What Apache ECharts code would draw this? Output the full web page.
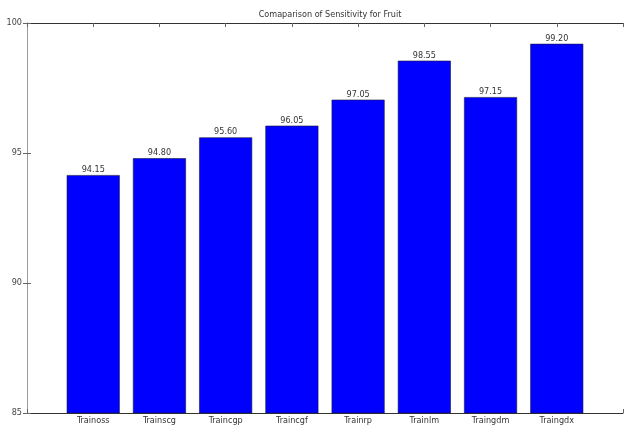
<!DOCTYPE html>
<html>
<head>
<meta charset="utf-8">
<script src="https://cdn.jsdelivr.net/npm/echarts@6/dist/echarts.min.js"></script>
<style>
  html, body { margin: 0; padding: 0; background: #fff; }
  #chart { width: 627px; height: 425px; }
</style>
</head>
<body>
<div id="chart"></div>
<script>
// Training algorithms and their sensitivity scores (%)
const categories = ['Trainoss', 'Trainscg', 'Traincgp', 'Traincgf', 'Trainrp', 'Trainlm', 'Traingdm', 'Traingdx'];
const sensitivity = [94.15, 94.80, 95.60, 96.05, 97.05, 98.55, 97.15, 99.20];
const yTicks = [85, 90, 95, 100];

const FONT = '"Liberation Sans Narrow", "DejaVu Sans Condensed", "Liberation Sans", sans-serif';
const AXIS_COLOR = '#666';

const chart = echarts.init(document.getElementById('chart'), null, { renderer: 'canvas' });

// Bars sit at positions 1..N on a numeric x axis spanning 0..N+1
const barData = sensitivity.map((v, i) => [i + 1, v]);

chart.setOption({
  animation: false,
  title: {
    text: 'Comaparison of Sensitivity for Fruit',
    left: 325,
    textAlign: 'center',
    top: 5,
    textStyle: { fontFamily: FONT, fontSize: 9, fontWeight: 'normal', color: '#333' }
  },
  grid: { left: 27, right: 4, top: 23, bottom: 12, containLabel: false },
  xAxis: [
    {
      type: 'value', min: 0, max: categories.length + 1, interval: 1, position: 'bottom',
      axisLine: { lineStyle: { color: '#333', width: 1 } },
      axisTick: { inside: true, length: 4, lineStyle: { color: AXIS_COLOR } },
      splitLine: { show: false },
      axisLabel: {
        fontFamily: FONT, fontSize: 9, color: '#333', margin: 3,
        formatter: v => (v >= 1 && v <= categories.length) ? categories[v - 1] : ''
      }
    },
    {
      type: 'value', min: 0, max: categories.length + 1, interval: 1, position: 'top',
      axisLine: { lineStyle: { color: '#333', width: 1 } },
      axisTick: { inside: true, length: 4, lineStyle: { color: AXIS_COLOR },
        interval: 0 },
      splitLine: { show: false },
      axisLabel: { show: false }
    }
  ],
  yAxis: [
    {
      type: 'value', min: yTicks[0], max: yTicks[yTicks.length - 1], interval: 5, position: 'left',
      axisLine: { show: true, lineStyle: { color: '#999', width: 1 } },
      axisTick: { show: true, inside: true, length: 4, lineStyle: { color: AXIS_COLOR } },
      splitLine: { show: false },
      axisLabel: { fontFamily: FONT, fontSize: 9, color: '#444', margin: 5 }
    },
    {
      type: 'value', min: yTicks[0], max: yTicks[yTicks.length - 1], interval: 5, position: 'right',
      axisLine: { show: true, lineStyle: { color: '#999', width: 1 } },
      axisTick: { show: true, inside: true, length: 4, lineStyle: { color: AXIS_COLOR } },
      splitLine: { show: false },
      axisLabel: { show: false }
    }
  ],
  series: [{
    type: 'bar',
    xAxisIndex: 0,
    yAxisIndex: 0,
    data: barData,
    barWidth: 53,
    itemStyle: { color: '#0000ff', borderColor: '#1a1a40', borderWidth: 0.6 },
    label: {
      show: true, position: 'top', distance: 1,
      fontFamily: FONT, fontSize: 9, color: '#333',
      formatter: p => p.value[1].toFixed(2)
    },
    z: 1
  }]
});
</script>
</body>
</html>
